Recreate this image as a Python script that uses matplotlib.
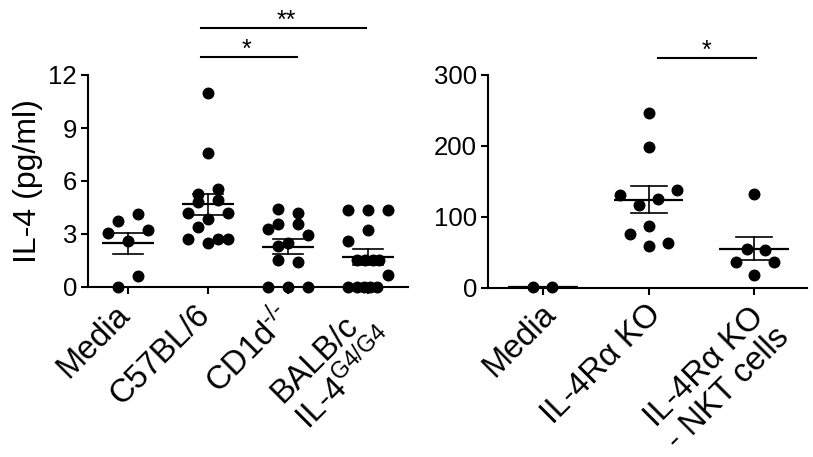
import numpy as np
import matplotlib
matplotlib.use("Agg")
import matplotlib.pyplot as plt
from matplotlib.transforms import ScaledTranslation

plt.rcParams["font.family"] = ["Liberation Sans", "DejaVu Sans"]
plt.rcParams["mathtext.fontset"] = "custom"
plt.rcParams["mathtext.rm"] = "Liberation Sans"
plt.rcParams["mathtext.it"] = "Liberation Sans:italic"
plt.rcParams["mathtext.bf"] = "Liberation Sans:bold"

# ---- data: left panel, IL-4 (pg/ml) ----
left_labels = ["Media", "C57BL/6", r"CD1d$^{\text{-/-}}$", "BALB/c\n" + r"IL-4$^{\text{G4/G4}}$"]
media_l = [3.06, 3.74, 4.16, 3.21, 2.61, 0.64, 0.0]
c57 = [10.96, 7.56, 5.57, 5.28, 4.94, 4.81, 4.19, 4.19, 3.87, 3.40, 2.74, 2.74, 2.74, 2.49]
cd1d = [4.43, 4.19, 3.58, 3.55, 3.30, 2.92, 2.49, 2.30, 1.51, 1.40, 0.0, 0.0, 0.0]
balb = [4.34, 4.34, 4.34, 3.25, 2.60, 1.51, 1.51, 1.51, 1.51, 0.66, 0.0, 0.0, 0.0, 0.0, 0.0]
left_groups = [media_l, c57, cd1d, balb]
left_ticks = [0, 3, 6, 9, 12]

# ---- data: right panel ----
right_labels = ["Media", "IL-4Rα KO", "IL-4Rα KO\n- NKT cells"]
media_r = [1.0, 1.0]
ko = [246, 198, 131, 138, 125, 116, 87, 76, 59, 62.5]
ko_nkt = [132, 54.5, 53, 35.7, 36.2, 17.4]
right_groups = [media_r, ko, ko_nkt]
right_ticks = [0, 100, 200, 300]

# horizontal slot of each dot (scatter layout, in dot steps)
left_slots = [
    [-2, -1, 1, 2, 0, 1, -1],
    [0, 0, 1, -1, 1, -1, -2, 2, 0, -1, -2, 1, 2, 0],
    [-1, 1, -1, 1, -2, 2, 0, -1, -1, 1, -2, 0, 2],
    [-2, 0, 2, 0, -2, -1.1, -0.3, 0.5, 1.1, 2, -2, -1.1, -0.4, 0.2, 0.9],
]
right_slots = [
    [-1, 1],
    [0, 0, -3, 3, 1, -1, 0, -2, 0, 2],
    [0, -0.8, 1.1, -1.9, 2.1, 0],
]


def draw_panel(ax, groups, slots, step, half_mean, half_cap):
    for i, (vals, sl) in enumerate(zip(groups, slots)):
        vals = np.asarray(vals, dtype=float)
        xs = i + np.asarray(sl, dtype=float) * step
        ax.scatter(xs, vals, s=74, color="black", linewidths=0, zorder=3, clip_on=False)
        m = vals.mean()
        se = vals.std(ddof=1) / np.sqrt(len(vals))
        ax.plot([i - half_mean, i + half_mean], [m, m], color="black", lw=1.6,
                solid_capstyle="butt", zorder=4, clip_on=False)
        ax.plot([i, i], [m - se, m + se], color="black", lw=1.2, zorder=4, clip_on=False)
        for yy in (m - se, m + se):
            ax.plot([i - half_cap, i + half_cap], [yy, yy], color="black", lw=1.2,
                    zorder=4, clip_on=False)


def style_axes(ax, n, ticks, labels, dx, dy):
    ax.set_xlim(-0.5 if n == 4 else -0.52, n - 0.5)
    ax.set_ylim(ticks[0], ticks[-1])
    ax.set_yticks(ticks)
    ax.set_xticks(range(n))
    ax.set_xticklabels([])
    for s in ("top", "right"):
        ax.spines[s].set_visible(False)
    for s in ("left", "bottom"):
        ax.spines[s].set_linewidth(1.5)
    ax.tick_params(axis="both", direction="out", length=5, width=1.5, labelsize=18.5, pad=3)
    off = ScaledTranslation(dx / 100, dy / 100, ax.figure.dpi_scale_trans)
    for i, lab in enumerate(labels):
        ax.text(i, 0, lab, transform=ax.get_xaxis_transform() + off, rotation=45,
                rotation_mode="anchor", ha="right", va="top", fontsize=23.5,
                multialignment="left", linespacing=1.05)


fig = plt.figure(figsize=(8.13, 4.57), dpi=100)
ax1 = fig.add_axes([88 / 813, 1 - 287 / 457, 320 / 813, 212 / 457])
ax2 = fig.add_axes([488 / 813, 1 - 287.7 / 457, 319 / 813, 212.7 / 457])

draw_panel(ax1, left_groups, left_slots, 0.125, 0.33, 0.19)
draw_panel(ax2, right_groups, right_slots, 0.09, 0.33, 0.17)

style_axes(ax1, 4, left_ticks, left_labels, -14, -12)
style_axes(ax2, 3, right_ticks, right_labels, -3, -11)

ax1.set_ylabel("IL-4 (pg/ml)", fontsize=23)
ax1.yaxis.set_label_coords(-0.14, 0.5)

# significance bars
ax1.plot([0.91, 2.11], [13.03, 13.03], color="black", lw=1.5, clip_on=False)
ax1.text(1.475, 13.03, "*", ha="center", va="baseline", fontsize=18)
ax1.plot([0.91, 2.98], [14.67, 14.67], color="black", lw=1.5, clip_on=False)
ax1.text(1.98, 14.67, "**", ha="center", va="baseline", fontsize=18)

ax2.plot([1.09, 2.02], [323.6, 323.6], color="black", lw=1.5, clip_on=False)
ax2.text(1.55, 323.6, "*", ha="center", va="baseline", fontsize=18)

fig.savefig("out.png", dpi=100)
